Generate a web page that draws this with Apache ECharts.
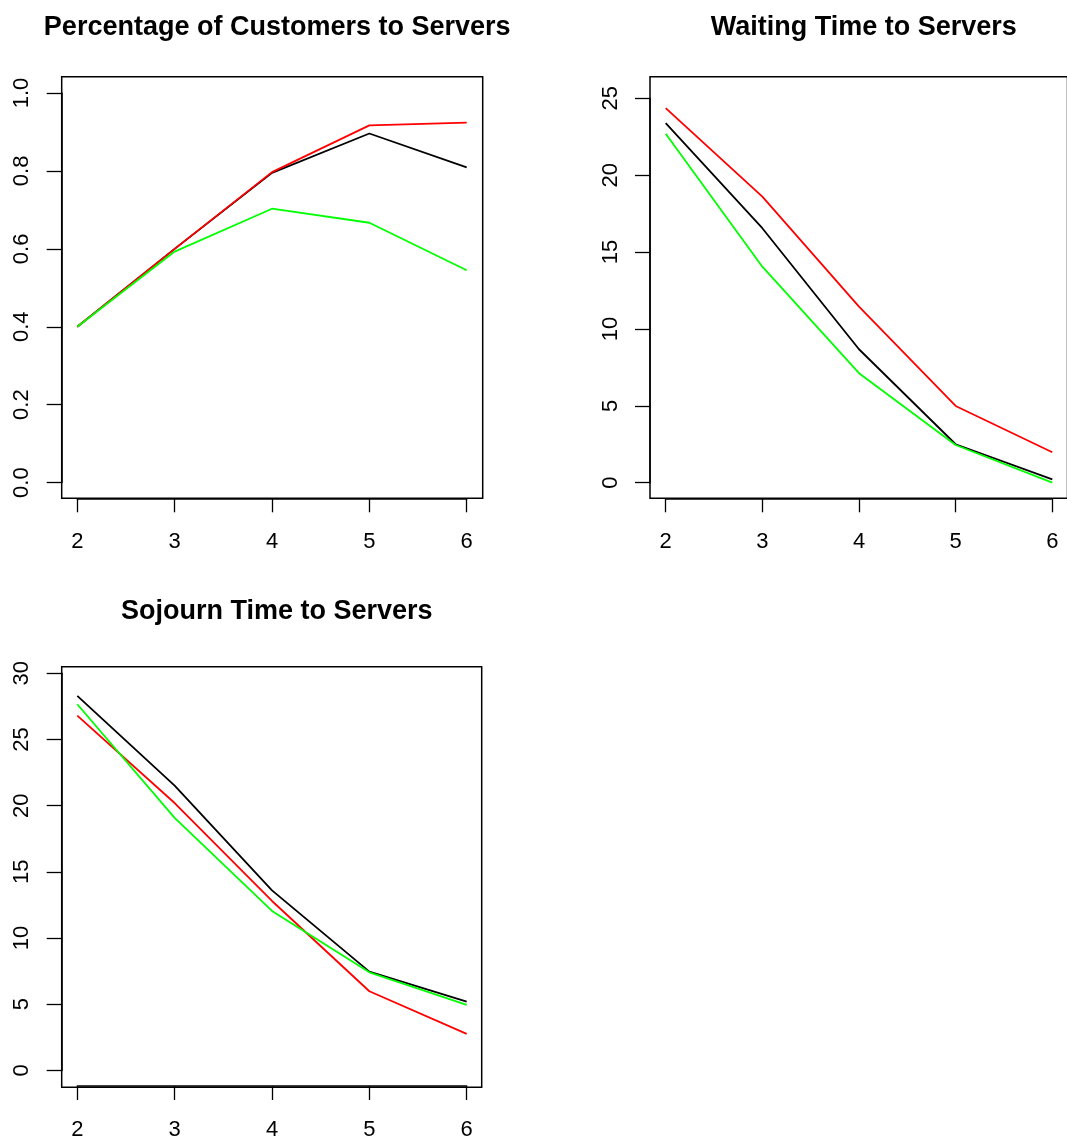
<!DOCTYPE html>
<html>
<head>
<meta charset="utf-8">
<script src="https://cdn.jsdelivr.net/npm/echarts@6/dist/echarts.min.js"></script>
<style>
html,body{margin:0;padding:0;background:#fff;}
#chart{width:1067px;height:1141px;}
</style>
</head>
<body>
<div id="chart"></div>
<script>
// ---- data ----
const servers = [2, 3, 4, 5, 6];
const pctBlack = [0.400, 0.600, 0.795, 0.896, 0.809];
const pctRed   = [0.400, 0.600, 0.797, 0.917, 0.924];
const pctGreen = [0.400, 0.593, 0.703, 0.667, 0.545];
const waitBlack = [23.38, 16.55, 8.68, 2.50, 0.22];
const waitRed   = [24.36, 18.60, 11.45, 4.99, 1.98];
const waitGreen = [22.69, 14.05, 7.12, 2.45, 0.00];
const sojBlack = [28.29, 21.51, 13.60, 7.46, 5.20];
const sojRed   = [26.80, 20.20, 12.80, 5.98, 2.76];
const sojGreen = [27.66, 19.08, 12.05, 7.41, 4.95];
const titles = ['Percentage of Customers to Servers', 'Waiting Time to Servers', 'Sojourn Time to Servers'];
const xTicks = [2, 3, 4, 5, 6];
const pctTicks = [0.0, 0.2, 0.4, 0.6, 0.8, 1.0];
const waitTicks = [0, 5, 10, 15, 20, 25];
const sojTicks = [0, 5, 10, 15, 20, 25, 30];

// ---- layout (grid = tick range, box = R plot frame) ----
const panels = [
  {grid:{left:77.3, top:93.0, width:389.4, height:389.6}, box:{x:61.7, y:76.7, w:421.0, h:421.6},
   yTicks:pctTicks, dec:1, series:[pctBlack,pctRed,pctGreen], titleTop:9},
  {grid:{left:665.7, top:98.3, width:386.6, height:384.4}, box:{x:650.0, y:76.7, w:417.5, h:421.6},
   yTicks:waitTicks, dec:0, series:[waitBlack,waitRed,waitGreen], titleTop:9},
  {grid:{left:77.3, top:673.3, width:389.4, height:398.4}, box:{x:61.7, y:666.7, w:420.0, h:420.6},
   yTicks:sojTicks, dec:0, series:[sojBlack,sojRed,sojGreen], titleTop:593}
];
const colors = ['#000000', '#ff0000', '#00ff00'];
const FONT = '"Liberation Sans", Arial, Helvetica, sans-serif';

const grid = [], xAxis = [], yAxis = [], series = [], title = [], graphic = [];
panels.forEach((p, i) => {
  grid.push(Object.assign({containLabel:false}, p.grid));
  const yT = p.yTicks;
  xAxis.push({
    type:'value', gridIndex:i, min:xTicks[0], max:xTicks[xTicks.length-1], interval:1,
    offset: p.box.y + p.box.h - (p.grid.top + p.grid.height),
    axisLine:{show:true, onZero:false, lineStyle:{color:'#000', width:1.5}},
    axisTick:{show:true, inside:false, length:14, lineStyle:{color:'#000', width:1.3}},
    axisLabel:{show:true, color:'#000', fontSize:22, fontFamily:FONT, margin:33,
      formatter:v => String(v)},
    splitLine:{show:false}
  });
  yAxis.push({
    type:'value', gridIndex:i, min:yT[0], max:yT[yT.length-1], interval:yT[1]-yT[0],
    offset: p.grid.left - p.box.x,
    axisLine:{show:true, onZero:false, lineStyle:{color:'#000', width:1.5}},
    axisTick:{show:true, inside:false, length:15, lineStyle:{color:'#000', width:1.3}},
    axisLabel:{show:true, color:'#000', fontSize:22, fontFamily:FONT, rotate:90, margin:28.5,
      formatter:v => Number(v).toFixed(p.dec)},
    splitLine:{show:false}
  });
  p.series.forEach((arr, k) => {
    series.push({
      type:'line', xAxisIndex:i, yAxisIndex:i, symbol:'none', silent:true,
      data: servers.map((s, j) => [s, arr[j]]),
      lineStyle:{color:colors[k], width:1.8}, itemStyle:{color:colors[k]},
      z: 3 + k
    });
  });
  title.push({
    text: titles[i], left: p.box.x + p.box.w/2, top: p.titleTop, textAlign:'center',
    textStyle:{fontSize:27, fontWeight:'bold', color:'#000', fontFamily:FONT}
  });
  graphic.push({
    type:'rect', silent:true, z:10,
    shape:{x:p.box.x, y:p.box.y, width:p.box.w, height:p.box.h},
    style:{fill:'none', stroke:'#000', lineWidth:1.5}
  });
});

const chart = echarts.init(document.getElementById('chart'), null, {renderer:'canvas'});
chart.setOption({
  animation:false, backgroundColor:'#ffffff',
  title, grid, xAxis, yAxis, series, graphic
});
</script>
</body>
</html>
